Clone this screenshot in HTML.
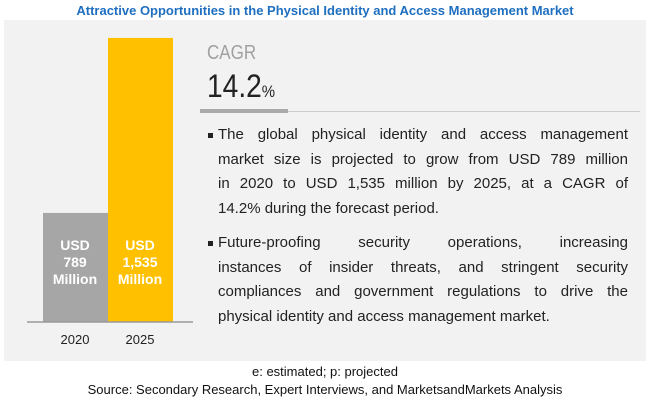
<!DOCTYPE html>
<html><head><meta charset="utf-8"><style>
body{margin:0;width:650px;height:404px;background:#fff;font-family:"Liberation Sans",sans-serif;position:relative;overflow:hidden}
.abs{position:absolute}
#title{left:0;width:650px;top:3px;text-align:center;color:#1f6fc0;font-weight:bold;font-size:13px}
#panel{left:4px;top:20px;width:642px;height:341px;background:#f2f2f2}
.bl{font-size:15px;line-height:24.5px;color:#222;width:410px;left:218px}
.bl div{text-align:justify;text-align-last:justify;white-space:nowrap;height:24.5px}
.bl div.last{text-align-last:left}
.bl::before{content:"";position:absolute;left:-10px;top:10px;width:5px;height:5px;background:#222}
.foot{left:0;width:650px;text-align:center;font-size:13px;color:#111}
</style></head><body>
<div class="abs" id="title">Attractive Opportunities in the Physical Identity and Access Management Market</div>
<div class="abs" id="panel"></div>
<svg class="abs" style="left:0;top:0" width="650" height="404">
<g id="bars"></g>
<line x1="27" x2="193" y1="322" y2="322" stroke="#999" stroke-width="1.5"/>
</svg>
<div class="abs" style="left:207px;top:42px;font-size:20px;color:#a0a0a0;transform:scaleX(.85);transform-origin:left">CAGR</div>
<div class="abs" style="left:207px;top:68px;font-size:32px;color:#222;transform:scaleX(.88);transform-origin:left">14.2<span style="font-size:17px">%</span></div>
<div class="abs" style="left:200px;top:111px;width:440px;height:1px;background:#ccc"></div>
<div class="abs" style="left:200px;top:109px;width:88px;height:4px;background:#aaa"></div>
<div class="abs bl" style="top:123px"><div>The global physical identity and access management</div><div>market size is projected to grow from USD 789 million</div><div>in 2020 to USD 1,535 million by 2025, at a CAGR of</div><div class="last">14.2% during the forecast period.</div></div>
<div class="abs bl" style="top:231px"><div>Future-proofing security operations, increasing</div><div>instances of insider threats, and stringent security</div><div>compliances and government regulations to drive the</div><div class="last">physical identity and access management market.</div></div>
<div class="abs foot" style="top:364px">e: estimated; p: projected</div>
<div class="abs foot" style="top:382px">Source: Secondary Research, Expert Interviews, and MarketsandMarkets Analysis</div>
<script>
const categories=["2020","2025"];
const values=[789,1535];
const valueLabels=["789","1,535"];
const colors=["#a6a6a6","#ffc000"];
function y(v){return 322-(v-324)*(175/746);}
function x(i){return 43+i*65;}
const g=document.getElementById('bars');
const ns="http://www.w3.org/2000/svg";
values.forEach((v,i)=>{
 const r=document.createElementNS(ns,'rect');
 
 
 r.setAttribute('x',x(i));r.setAttribute('width',65);
 r.setAttribute('y',y(v));r.setAttribute('height',322-y(v));
 r.setAttribute('fill',colors[i]);g.appendChild(r);
 ["USD",valueLabels[i],"Million"].forEach((s,j)=>{
  const t=document.createElementNS(ns,'text');
  
  
  t.setAttribute('x',x(i)+32);t.setAttribute('y',250+j*17);
  t.setAttribute('text-anchor','middle');t.setAttribute('fill','#fff');
  t.setAttribute('font-weight','bold');
  t.setAttribute('font-size','14');t.textContent=s;g.appendChild(t);
 });
 const c=document.createElementNS(ns,'text');
 
 
 c.setAttribute('x',x(i)+32);c.setAttribute('y',344);
 c.setAttribute('text-anchor','middle');c.setAttribute('fill','#222');
 c.setAttribute('font-size','13');c.textContent=categories[i];g.appendChild(c);
});
</script>
</body></html>
